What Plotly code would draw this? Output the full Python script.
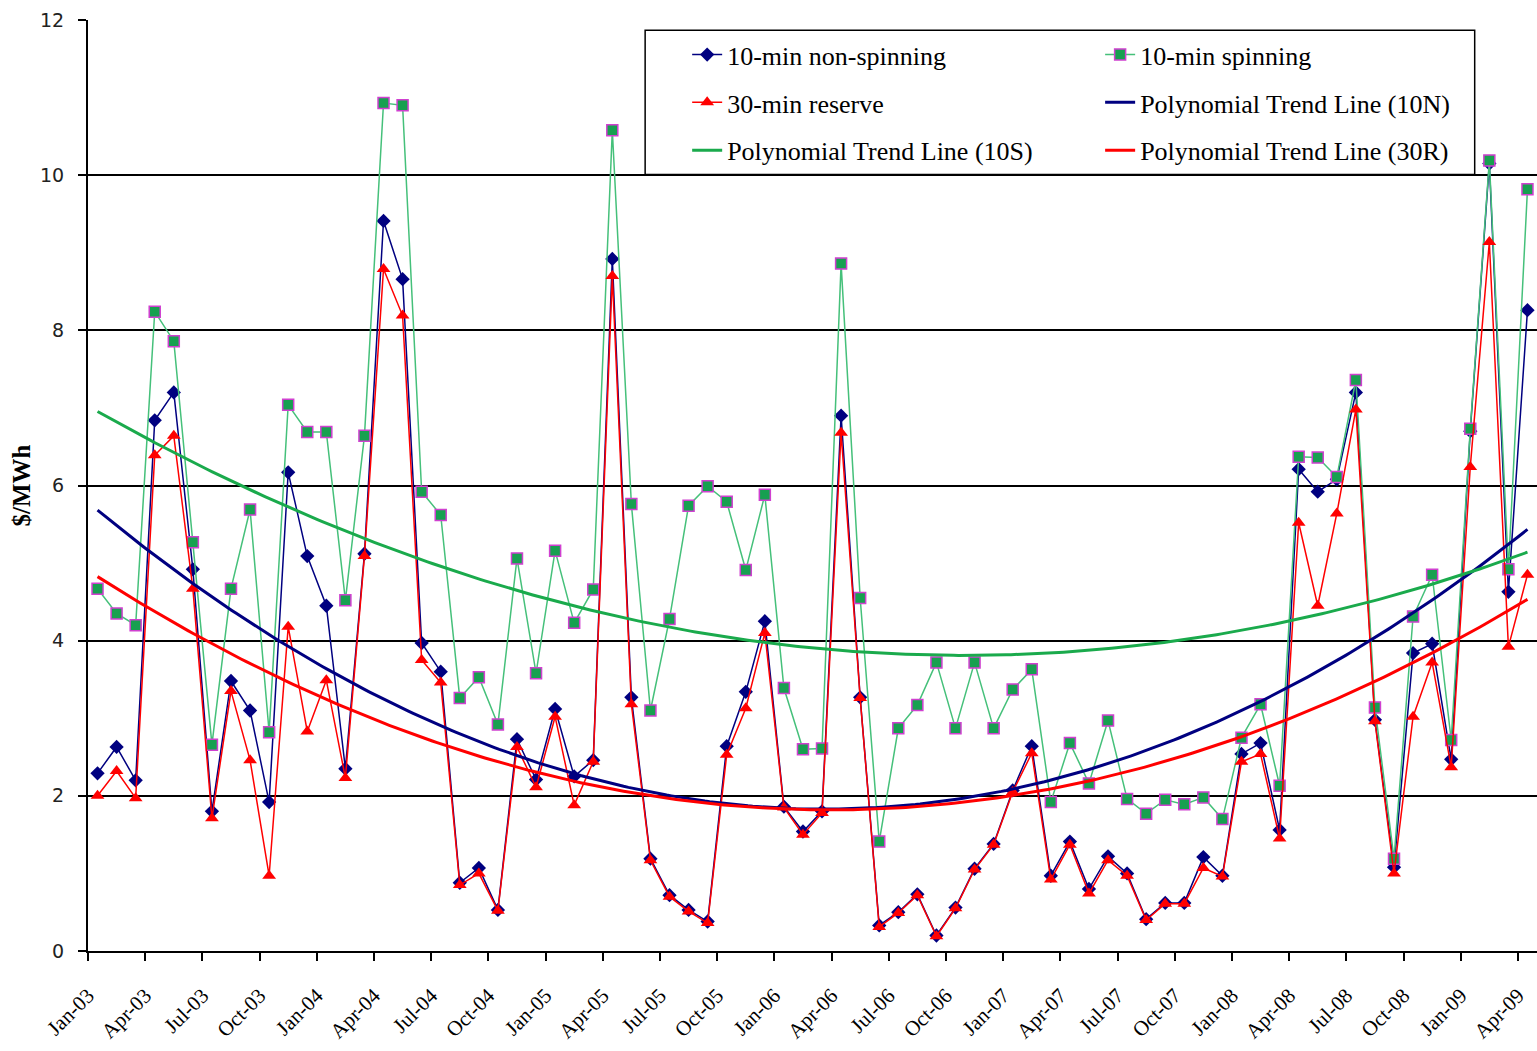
import numpy as np
import plotly.graph_objects as go

# ---- data (monthly, Jan-03 .. Apr-09) ----
tick_labels = ["Jan-03", "Apr-03", "Jul-03", "Oct-03", "Jan-04", "Apr-04", "Jul-04", "Oct-04",
               "Jan-05", "Apr-05", "Jul-05", "Oct-05", "Jan-06", "Apr-06", "Jul-06", "Oct-06",
               "Jan-07", "Apr-07", "Jul-07", "Oct-07", "Jan-08", "Apr-08", "Jul-08", "Oct-08",
               "Jan-09", "Apr-09"]

non_spinning = [2.29, 2.63, 2.20, 6.84, 7.20, 4.92, 1.80, 3.48, 3.10, 1.92,
                6.17, 5.09, 4.45, 2.35, 5.12, 9.41, 8.66, 3.97, 3.60, 0.88,
                1.07, 0.53, 2.73, 2.21, 3.12, 2.25, 2.46, 8.92, 3.27, 1.19,
                0.72, 0.53, 0.38, 2.64, 3.34, 4.25, 1.86, 1.54, 1.80, 6.90,
                3.27, 0.33, 0.50, 0.73, 0.20, 0.56, 1.06, 1.38, 2.07, 2.64,
                0.97, 1.41, 0.80, 1.22, 1.00, 0.41, 0.62, 0.62, 1.21, 0.97,
                2.54, 2.68, 1.56, 6.21, 5.92, 6.08, 7.20, 2.98, 1.08, 3.84,
                3.96, 2.47, 6.70, 10.15, 4.63, 8.26]

spinning = [4.67, 4.35, 4.20, 8.24, 7.86, 5.27, 2.66, 4.67, 5.69, 2.82,
            7.04, 6.69, 6.69, 4.52, 6.64, 10.93, 10.90, 5.92, 5.62, 3.26,
            3.53, 2.92, 5.06, 3.58, 5.16, 4.23, 4.66, 10.58, 5.76, 3.10,
            4.28, 5.74, 5.99, 5.79, 4.91, 5.88, 3.39, 2.60, 2.61, 8.86,
            4.55, 1.41, 2.87, 3.17, 3.72, 2.87, 3.72, 2.87, 3.37, 3.63,
            1.92, 2.68, 2.16, 2.97, 1.96, 1.77, 1.95, 1.89, 1.98, 1.70,
            2.75, 3.18, 2.13, 6.37, 6.36, 6.11, 7.36, 3.14, 1.19, 4.31,
            4.85, 2.72, 6.73, 10.19, 4.92, 9.82]

reserve_30 = [2.00, 2.32, 1.97, 6.39, 6.64, 4.67, 1.71, 3.35, 2.46, 0.97,
              4.18, 2.83, 3.49, 2.23, 5.09, 8.79, 8.19, 3.75, 3.46, 0.85,
              1.00, 0.52, 2.63, 2.11, 3.02, 1.88, 2.44, 8.70, 3.18, 1.17,
              0.70, 0.51, 0.36, 2.53, 3.13, 4.10, 1.85, 1.50, 1.78, 6.68,
              3.26, 0.31, 0.49, 0.72, 0.19, 0.55, 1.05, 1.37, 2.05, 2.55,
              0.92, 1.37, 0.74, 1.17, 0.97, 0.40, 0.61, 0.61, 1.07, 0.96,
              2.44, 2.54, 1.45, 5.52, 4.45, 5.64, 6.98, 2.96, 1.00, 3.02,
              3.72, 2.37, 6.24, 9.14, 3.92, 4.85]

x = np.arange(len(non_spinning))
xt = np.linspace(0, len(x) - 1, 300)


def trend(vals):
    c = np.polyfit(x, vals, 2)
    return np.polyval(c, xt)


NAVY = "#000080"
RED = "#FF0000"
GREEN_LINE = "#45C07A"
GREEN_FILL = "#17A050"
MAGENTA = "#D040D0"
GREEN_TREND = "#1AAA4C"
SERIF = "Liberation Serif"

fig = go.Figure()
fig.add_trace(go.Scatter(x=x, y=non_spinning, mode="lines+markers", name="10-min non-spinning",
                         line=dict(color=NAVY, width=1.5),
                         marker=dict(symbol="diamond", size=11, color=NAVY),
                         legend="legend", legendgroup="a"))
fig.add_trace(go.Scatter(x=x, y=spinning, mode="lines+markers", name="10-min spinning",
                         line=dict(color=GREEN_LINE, width=1.5),
                         marker=dict(symbol="square", size=11, color=GREEN_FILL,
                                     line=dict(color=MAGENTA, width=1.5)),
                         legend="legend2", legendgroup="b"))
fig.add_trace(go.Scatter(x=x, y=reserve_30, mode="lines+markers", name="30-min reserve",
                         line=dict(color=RED, width=1.5),
                         marker=dict(symbol="triangle-up", size=12, color=RED),
                         legend="legend", legendgroup="c"))
fig.add_trace(go.Scatter(x=xt, y=trend(non_spinning), mode="lines", name="Polynomial Trend Line (10N)",
                         line=dict(color=NAVY, width=3), legend="legend2", legendgroup="d"))
fig.add_trace(go.Scatter(x=xt, y=trend(spinning), mode="lines", name="Polynomial Trend Line (10S)",
                         line=dict(color=GREEN_TREND, width=3), legend="legend", legendgroup="e"))
fig.add_trace(go.Scatter(x=xt, y=trend(reserve_30), mode="lines", name="Polynomial Trend Line (30R)",
                         line=dict(color=RED, width=3), legend="legend2", legendgroup="f"))

legend_common = dict(yanchor="top", xanchor="left", bgcolor="rgba(0,0,0,0)", borderwidth=0,
                     font=dict(family=SERIF, size=26, color="black"), tracegroupgap=11,
                     orientation="v")

fig.update_layout(
    width=1537, height=1051,
    margin=dict(l=88, r=0, t=20, b=100),
    paper_bgcolor="white", plot_bgcolor="white",
    showlegend=True,
    legend=dict(x=0.4135, y=0.988, **legend_common),
    legend2=dict(x=0.6985, y=0.988, **legend_common),
    shapes=[dict(type="rect", xref="paper", yref="paper", x0=0.3845, x1=0.957, y0=0.834, y1=0.989,
                 fillcolor="white", line=dict(color="black", width=1.5), layer="above")],
    xaxis=dict(range=[-0.5, len(x) - 0.5], tickmode="array",
               tickvals=[-0.5 + 3 * k for k in range(len(tick_labels))], ticktext=tick_labels,
               tickangle=-45, tickfont=dict(family=SERIF, size=21, color="black"),
               ticklabelstandoff=14,
               showgrid=False, zeroline=False, showline=True, linecolor="black", linewidth=2,
               ticks="outside", ticklen=8, tickcolor="black", tickwidth=1.5),
    yaxis=dict(range=[0, 12], dtick=2, tickfont=dict(family="DejaVu Sans", size=19, color="#222"),
               showgrid=True, gridcolor="black", gridwidth=1.5, zeroline=False,
               showline=True, linecolor="black", linewidth=2,
               ticks="outside", ticklen=8, tickcolor="black", tickwidth=1.5,
               ticklabelstandoff=10,
               title=dict(text="<b>$/MWh</b>", font=dict(family=SERIF, size=25, color="black"),
                          standoff=2)),
)

fig.write_html("out.html", config={"displayModeBar": False},
               post_script="document.body.style.margin='0';")
